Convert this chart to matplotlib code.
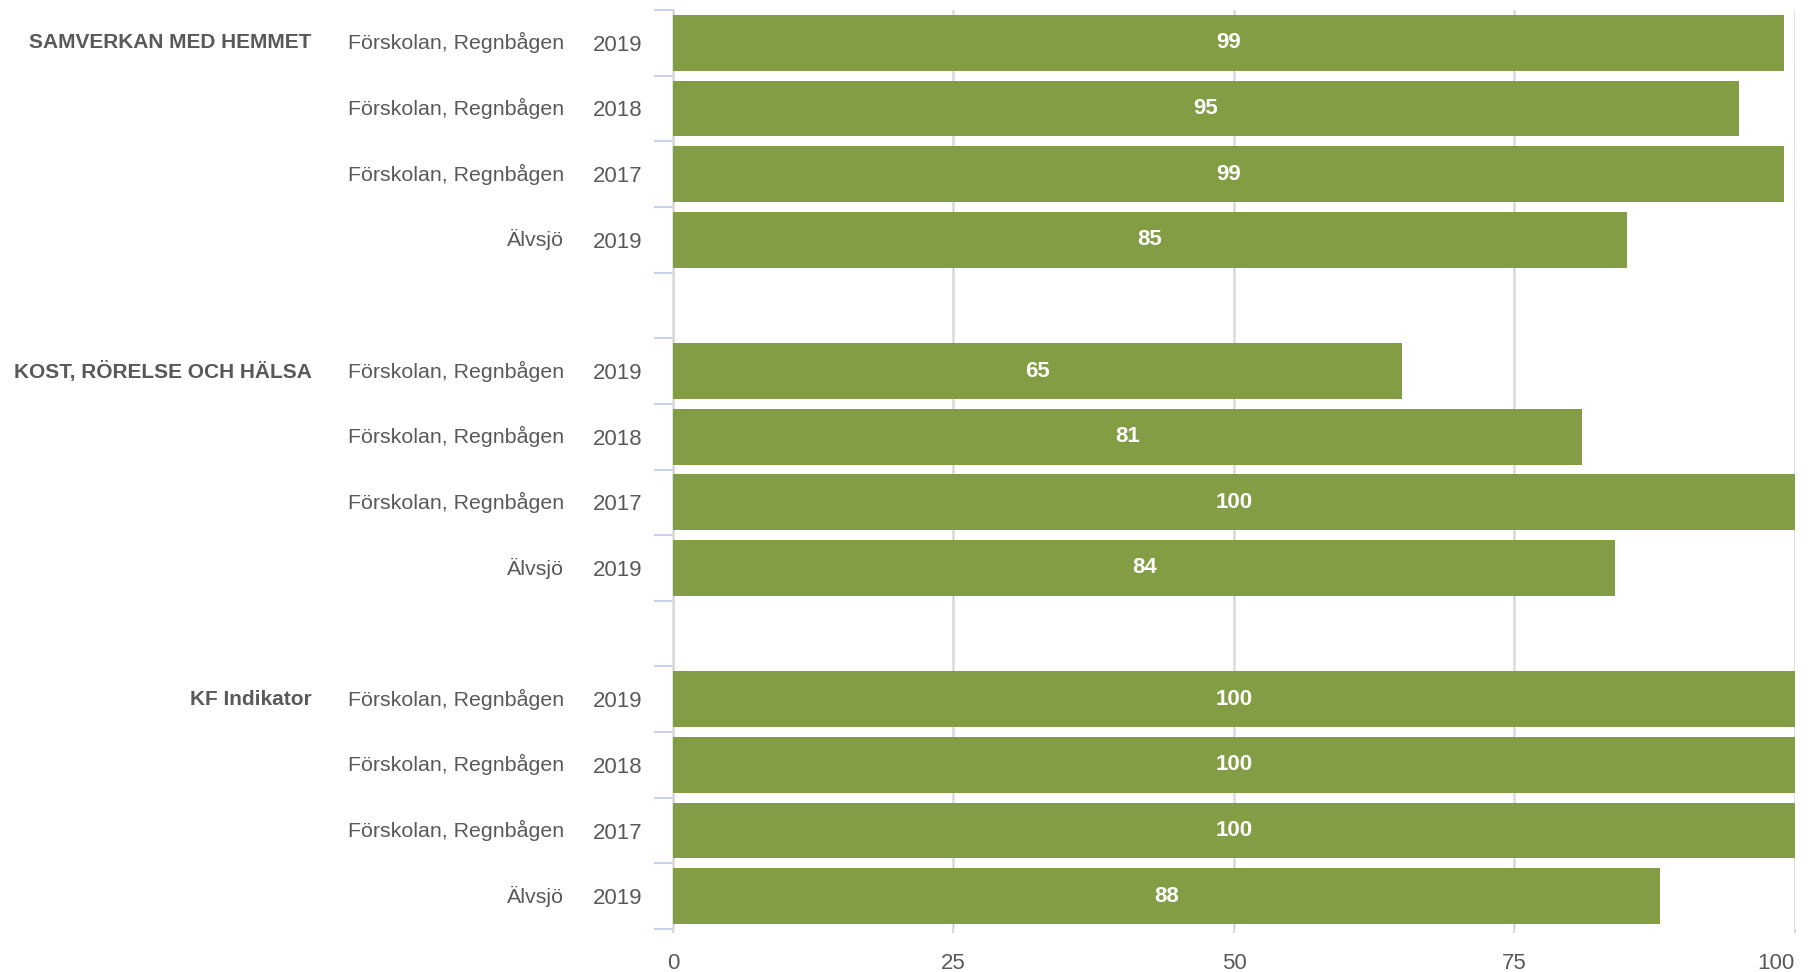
import matplotlib.pyplot as plt
import matplotlib.transforms as mtransforms

# Data
categories = ["SAMVERKAN MED HEMMET", "KOST, RÖRELSE OCH HÄLSA", "KF Indikator"]
units = ["Förskolan, Regnbågen", "Förskolan, Regnbågen", "Förskolan, Regnbågen", "Älvsjö"]
years = ["2019", "2018", "2017", "2019"]
samverkan = [99, 95, 99, 85]
kost = [65, 81, 100, 84]
kf = [100, 100, 100, 88]
x_ticks = [0, 25, 50, 75, 100]

BAR_COLOR = "#829d44"
TEXT_COLOR = "#595959"
GRID_COLOR = "#d9d9d9"
TICK_COLOR = "#c9d3e8"

plt.rcParams["font.family"] = ["Liberation Sans", "DejaVu Sans"]

fig = plt.figure(figsize=(18.10, 9.72), dpi=100)
ax = fig.add_axes([0.3718, 0.0442, 0.6199, 0.9455])

series = [samverkan, kost, kf]
ypos, vals, ylabels = [], [], []
for g, vs in enumerate(series):
    for i, v in enumerate(vs):
        ypos.append(g * 5 + i)
        vals.append(v)
        ylabels.append(years[i])

ax.barh(ypos, vals, height=0.85, color=BAR_COLOR, zorder=3)
for y, v in zip(ypos, vals):
    ax.text(v / 2, y, str(v), ha="center", va="center", color="white",
            fontsize=16, fontweight="bold", zorder=4)

ax.set_xlim(0, 100)
ax.set_ylim(13.5, -0.5)

# year labels as ytick labels
ax.set_yticks(ypos)
ax.set_yticklabels(ylabels, fontsize=16, color=TEXT_COLOR)
ax.tick_params(axis="y", which="major", length=0, pad=22)

# slot boundary ticks
ax.set_yticks([b - 0.5 for b in range(15)], minor=True)
ax.tick_params(axis="y", which="minor", length=14, width=1.5, color=TICK_COLOR)

trans = mtransforms.blended_transform_factory(ax.transAxes, ax.transData)
for g, cat in enumerate(categories):
    ax.text(-0.322, g * 5, cat, transform=trans, ha="right", va="center",
            fontsize=15, fontweight="bold", color=TEXT_COLOR)
    for i, u in enumerate(units):
        ax.text(-0.097, g * 5 + i, u, transform=trans, ha="right", va="center",
                fontsize=15.4, color=TEXT_COLOR)

ax.set_xticks(x_ticks)
ax.set_xticklabels([str(t) for t in x_ticks], fontsize=16, color=TEXT_COLOR)
ax.get_xticklabels()[-1].set_ha("right")
ax.tick_params(axis="x", length=3, width=1.5, color=GRID_COLOR, pad=14)

ax.grid(axis="x", color=GRID_COLOR, linewidth=1.8, zorder=0)
for s in ["top", "right", "bottom"]:
    ax.spines[s].set_visible(False)
ax.spines["left"].set_color(GRID_COLOR)
ax.spines["left"].set_linewidth(1.8)

fig.savefig("out.png", dpi=100)
